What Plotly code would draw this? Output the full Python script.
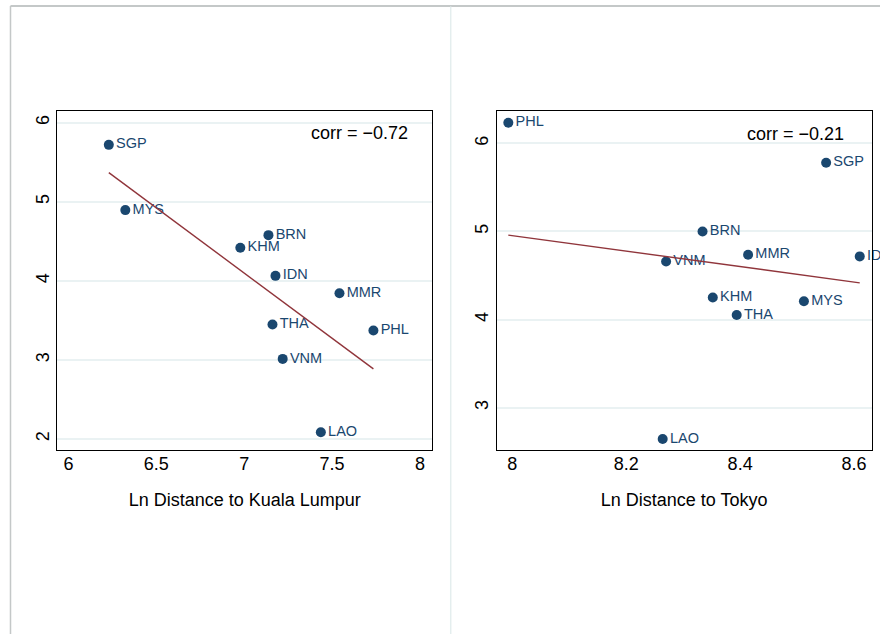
import numpy as np
import plotly.graph_objects as go

# ---- data ----
countries_kl = ["SGP", "MYS", "BRN", "KHM", "IDN", "MMR", "THA", "PHL", "VNM", "LAO"]
ln_dist_kl = [6.230, 6.324, 7.138, 6.978, 7.178, 7.542, 7.161, 7.735, 7.219, 7.436]
y_kl = [5.72, 4.895, 4.578, 4.418, 4.063, 3.844, 3.448, 3.372, 3.013, 2.085]

countries_tk = ["PHL", "SGP", "BRN", "MMR", "IDN", "VNM", "KHM", "MYS", "THA", "LAO"]
ln_dist_tk = [7.993, 8.551, 8.334, 8.414, 8.610, 8.270, 8.352, 8.512, 8.394, 8.264]
y_tk = [6.234, 5.780, 5.000, 4.736, 4.717, 4.660, 4.250, 4.208, 4.052, 2.645]

corr_kl = "corr = \u22120.72"
corr_tk = "corr = \u22120.21"
xtitle_kl = "Ln Distance to Kuala Lumpur"
xtitle_tk = "Ln Distance to Tokyo"
xticks_kl = [6, 6.5, 7, 7.5, 8]
xticks_tk = [8, 8.2, 8.4, 8.6]
yticks_kl = [2, 3, 4, 5, 6]
yticks_tk = [3, 4, 5, 6]

NAVY = "#1a476f"
MAROON = "#90353b"
GRID = "#eaf2f3"
FONT = "Liberation Sans, Arial, Helvetica, sans-serif"
W, H = 880, 634

def fitline(x, y):
    x = np.asarray(x); y = np.asarray(y)
    b, a = np.polyfit(x, y, 1)
    xs = np.array([x.min(), x.max()])
    return xs, a + b * xs

fig = go.Figure()

for x, y, names, xa, ya in [(ln_dist_kl, y_kl, countries_kl, "x", "y"),
                             (ln_dist_tk, y_tk, countries_tk, "x2", "y2")]:
    fig.add_trace(go.Scatter(
        x=x, y=y, mode="markers+text", text=names, textposition="middle right",
        marker=dict(color=NAVY, size=10),
        textfont=dict(color=NAVY, size=14.5, family=FONT),
        cliponaxis=False, xaxis=xa, yaxis=ya, showlegend=False))
    fx, fy = fitline(x, y)
    fig.add_trace(go.Scatter(
        x=fx, y=fy, mode="lines", line=dict(color=MAROON, width=1.4),
        xaxis=xa, yaxis=ya, showlegend=False))

ydom = [1 - 450.3 / H, 1 - 110.7 / H]
common_x = dict(showgrid=False, zeroline=False, showline=True, mirror=True,
                linecolor="black", linewidth=1.3, ticks="",
                ticklabelstandoff=-3,
                tickfont=dict(size=18, family=FONT, color="black"),
                title_font=dict(size=18, family=FONT, color="black"),
                title_standoff=20)
common_y = dict(showgrid=True, gridcolor=GRID, gridwidth=1.5, zeroline=False,
                showline=True, mirror=True, linecolor="black", linewidth=1.3,
                ticks="", tickangle=-90,
                tickfont=dict(size=18, family=FONT, color="black"))

fig.update_layout(
    width=W, height=H, margin=dict(l=0, r=0, t=0, b=0),
    paper_bgcolor="white", plot_bgcolor="white",
    font=dict(family=FONT),
    xaxis=dict(domain=[57.3 / W, 432.3 / W], range=[5.937, 8.070],
               tickvals=xticks_kl, ticktext=[str(v) for v in xticks_kl],
               title_text=xtitle_kl, anchor="y", **common_x),
    yaxis=dict(domain=ydom, range=[1.857, 6.152], tickvals=yticks_kl,
               anchor="x", **common_y),
    xaxis2=dict(domain=[496.7 / W, 871.7 / W], range=[7.9726, 8.631],
                tickvals=xticks_tk, ticktext=[str(v) for v in xticks_tk],
                title_text=xtitle_tk, anchor="y2", **common_x),
    yaxis2=dict(domain=ydom, range=[2.517, 6.37], tickvals=yticks_tk,
                anchor="x2", **common_y),
)

fig.add_annotation(text=corr_kl, xref="paper", yref="paper", x=409.5 / W,
                   y=1 - 132.5 / H, xanchor="right", yanchor="middle",
                   showarrow=False, font=dict(size=18, family=FONT, color="black"))
fig.add_annotation(text=corr_tk, xref="paper", yref="paper", x=846 / W,
                   y=1 - 133.5 / H, xanchor="right", yanchor="middle",
                   showarrow=False, font=dict(size=18, family=FONT, color="black"))

# outer graph-region outlines
fig.add_shape(type="line", xref="paper", yref="paper", x0=10.5 / W, x1=1,
              y0=1 - 6 / H, y1=1 - 6 / H, line=dict(color="#b0b6b6", width=1.5))
fig.add_shape(type="line", xref="paper", yref="paper", x0=10.5 / W, x1=10.5 / W,
              y0=0, y1=1 - 6 / H, line=dict(color="#c4c8c8", width=1.5))
fig.add_shape(type="line", xref="paper", yref="paper", x0=450.7 / W, x1=450.7 / W,
              y0=0, y1=1 - 6.5 / H, line=dict(color="#e4eeee", width=1.5))

fig.write_html("out.html", config={"displayModeBar": False},
               post_script="document.body.style.margin='0px';document.body.style.overflow='hidden';")
